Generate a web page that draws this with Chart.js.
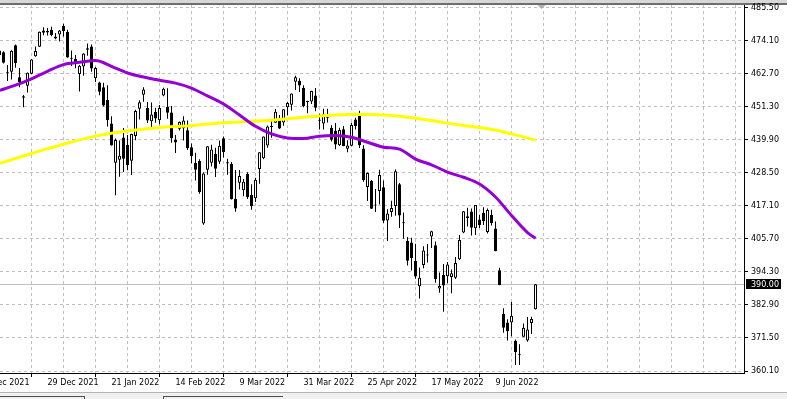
<!DOCTYPE html>
<html>
<head>
<meta charset="utf-8">
<script src="https://cdn.jsdelivr.net/npm/chart.js@4.4.0/dist/chart.umd.min.js"></script>
<style>
  html, body { margin: 0; padding: 0; background: #fff; }
  #wrap { width: 787px; height: 399px; }
</style>
</head>
<body>
<div id="wrap"><canvas id="priceChart" width="787" height="399"></canvas></div>
<script>
// daily bars, 10 Dec 2021 .. 24 Jun 2022
const dates = ['2021-12-10','2021-12-13','2021-12-14','2021-12-15','2021-12-16','2021-12-17','2021-12-20','2021-12-21','2021-12-22','2021-12-23','2021-12-27','2021-12-28','2021-12-29','2021-12-30','2021-12-31',
  '2022-01-03','2022-01-04','2022-01-05','2022-01-06','2022-01-07','2022-01-10','2022-01-11','2022-01-12','2022-01-13','2022-01-14','2022-01-18','2022-01-19','2022-01-20','2022-01-21','2022-01-24','2022-01-25','2022-01-26','2022-01-27','2022-01-28','2022-01-31',
  '2022-02-01','2022-02-02','2022-02-03','2022-02-04','2022-02-07','2022-02-08','2022-02-09','2022-02-10','2022-02-11','2022-02-14','2022-02-15','2022-02-16','2022-02-17','2022-02-18','2022-02-22','2022-02-23','2022-02-24','2022-02-25','2022-02-28',
  '2022-03-01','2022-03-02','2022-03-03','2022-03-04','2022-03-07','2022-03-08','2022-03-09','2022-03-10','2022-03-11','2022-03-14','2022-03-15','2022-03-16','2022-03-17','2022-03-18','2022-03-21','2022-03-22','2022-03-23','2022-03-24','2022-03-25','2022-03-28','2022-03-29','2022-03-30','2022-03-31',
  '2022-04-01','2022-04-04','2022-04-05','2022-04-06','2022-04-07','2022-04-08','2022-04-11','2022-04-12','2022-04-13','2022-04-14','2022-04-18','2022-04-19','2022-04-20','2022-04-21','2022-04-22','2022-04-25','2022-04-26','2022-04-27','2022-04-28','2022-04-29',
  '2022-05-02','2022-05-03','2022-05-04','2022-05-05','2022-05-06','2022-05-09','2022-05-10','2022-05-11','2022-05-12','2022-05-13','2022-05-16','2022-05-17','2022-05-18','2022-05-19','2022-05-20','2022-05-23','2022-05-24','2022-05-25','2022-05-26','2022-05-27','2022-05-31',
  '2022-06-01','2022-06-02','2022-06-03','2022-06-06','2022-06-07','2022-06-08','2022-06-09','2022-06-10','2022-06-13','2022-06-14','2022-06-15','2022-06-16','2022-06-17','2022-06-21','2022-06-22','2022-06-23','2022-06-24'];

const open = [469.23,470.19,463.09,463.42,472.57,461.55,454.48,458.61,462.79,468.75,472.06,477.72,476.98,477.93,475.64,
  476.30,479.22,477.16,467.89,467.95,462.70,465.23,471.59,472.19,461.19,459.74,458.13,453.75,445.56,432.03,433.06,440.72,438.26,432.68,441.24,
  450.68,455.50,450.95,446.35,449.51,446.73,455.22,451.34,449.41,439.92,443.73,443.93,443.22,437.33,431.89,432.66,411.02,429.61,432.03,
  435.04,432.37,440.47,431.75,431.55,419.62,425.14,422.52,428.12,420.89,419.77,429.89,433.59,438.00,444.34,445.86,446.91,445.94,451.16,452.06,460.02,460.34,457.89,
  453.31,453.13,455.22,446.89,445.59,447.97,444.11,443.08,438.03,443.55,436.81,437.86,446.92,448.54,436.91,423.67,425.83,417.24,422.29,423.59,
  412.07,415.01,417.08,424.55,411.10,405.10,404.49,398.07,389.37,396.71,399.98,406.53,403.50,388.62,393.25,392.83,392.56,392.31,398.67,407.91,413.55,
  415.17,409.42,412.40,414.78,408.10,413.93,409.34,394.88,379.85,376.85,376.86,370.51,365.51,371.89,370.62,376.64,381.40];

const high = [470.90,470.56,465.74,470.86,472.87,464.74,455.40,463.21,467.81,472.19,477.31,478.81,478.56,479.00,476.86,
  477.85,479.98,477.98,470.82,469.20,465.74,469.85,473.20,472.88,465.09,459.96,459.61,458.74,448.06,440.38,439.72,444.04,441.59,442.00,450.28,
  453.63,458.12,452.97,452.78,450.99,451.92,457.88,457.71,451.61,441.60,446.28,448.06,446.57,438.66,435.50,433.26,428.76,437.84,438.20,
  437.17,439.72,441.11,433.37,432.30,429.51,429.51,426.43,428.77,424.55,426.84,435.68,441.07,444.86,446.46,450.58,448.49,450.50,452.98,455.91,462.07,461.20,458.76,
  453.46,456.91,457.83,448.93,450.69,450.63,445.00,445.75,444.11,444.73,439.75,445.80,447.57,450.01,438.08,428.69,426.04,422.92,429.64,425.87,
  415.92,418.93,429.66,425.00,414.80,406.41,406.08,404.04,395.80,403.18,403.97,408.57,404.80,394.14,397.03,397.73,395.15,399.45,407.04,415.38,416.46,
  416.24,417.44,414.04,416.61,416.22,415.82,411.74,395.78,381.81,377.94,383.90,370.94,369.38,376.53,378.72,378.83,390.09];

const low = [466.51,466.27,460.25,460.74,464.80,458.06,451.14,456.31,462.58,468.64,472.01,476.06,475.92,475.67,474.67,
  473.85,475.58,468.28,465.43,464.65,456.60,462.05,468.94,463.44,459.90,455.31,451.46,444.50,437.95,420.76,427.15,428.86,429.45,427.82,439.81,
  446.94,453.05,445.71,443.83,445.85,445.22,455.01,447.20,438.94,435.34,443.18,439.69,436.42,431.82,425.86,421.35,410.64,427.86,430.70,
  427.11,431.57,433.80,427.88,419.36,415.12,422.82,420.44,419.53,415.79,418.42,424.80,433.19,437.22,440.68,445.86,443.71,444.76,448.43,450.06,457.18,456.47,451.16,
  449.14,452.26,449.82,443.47,443.53,445.94,439.39,436.65,437.84,437.68,435.61,437.68,443.48,437.10,425.44,418.84,416.07,415.01,417.60,411.21,
  405.02,413.36,413.71,409.44,405.73,396.50,394.82,391.96,385.15,395.61,397.60,402.58,390.55,387.11,380.54,390.38,386.96,391.89,398.45,407.70,410.03,
  406.93,407.04,409.51,410.55,407.61,410.38,401.44,389.75,373.30,370.59,372.12,362.17,362.17,371.81,370.18,372.89,381.37];

const close = [470.74,466.57,463.36,470.60,466.45,459.87,454.98,463.06,467.69,470.60,477.26,476.87,477.48,476.16,474.96,
  477.71,477.55,468.38,467.94,466.09,465.51,469.75,471.02,464.53,464.72,456.49,451.75,446.75,437.98,439.84,434.47,433.38,431.24,441.95,449.91,
  452.95,457.35,446.60,448.70,447.26,450.94,457.54,449.32,440.46,439.02,446.10,446.60,437.06,434.23,429.57,421.95,428.30,437.75,436.63,
  429.98,437.89,435.71,432.17,419.43,416.25,427.41,425.48,420.07,417.00,426.17,435.62,441.07,444.52,444.39,449.59,443.80,450.49,452.69,455.91,461.55,458.70,451.64,
  452.92,456.80,451.03,446.52,448.77,447.57,439.92,438.29,443.31,437.79,437.97,445.04,444.71,438.06,426.04,428.51,416.10,417.27,427.81,412.00,
  414.48,416.38,429.06,413.81,411.34,398.17,399.09,392.75,392.34,401.72,400.09,408.32,391.86,389.46,389.63,396.92,393.89,397.37,405.31,415.26,412.93,
  409.59,417.39,410.54,411.79,415.74,411.22,401.44,389.80,375.00,373.87,379.20,366.65,365.86,375.07,374.39,378.06,390.08];

// moving averages, read every 4th bar (bar index into dates)
const maBar = [0,4,8,12,16,20,24,28,32,36,40,44,48,52,56,60,64,68,72,76,80,84,88,92,96,100,104,108,112,116,120,124,128,132,134];
const maFast = [457.0,458.8,461.0,463.6,465.9,466.7,467.3,465.3,463.0,461.6,460.5,459.5,457.8,455.1,452.3,448.5,444.6,442.0,440.6,440.4,
  441.2,441.4,440.8,439.1,437.4,436.7,433.3,431.3,428.8,427.0,424.7,420.2,413.8,407.9,405.9];
const maSlow = [431.8,433.5,435.2,436.9,438.4,439.9,441.2,442.2,443.0,443.6,444.2,444.5,444.8,445.4,445.8,446.1,446.4,446.7,447.2,447.7,
  448.2,448.5,448.7,448.7,448.5,448.1,447.4,446.6,445.7,444.9,444.2,443.3,442.0,440.6,439.8];

// axis labels
const priceTicks = [360.10,371.50,382.90,394.30,405.70,417.10,428.50,439.90,451.30,462.70,474.10,485.50];
const dateTicks = ['6 Dec 2021','29 Dec 2021','21 Jan 2022','14 Feb 2022','9 Mar 2022','31 Mar 2022','25 Apr 2022','17 May 2022','9 Jun 2022'];
const bidPrice = 390.00;

const bodies = dates.map((d, i) => ({x: i, y: [open[i], close[i]]}));
const wicks = dates.map((d, i) => ({x: i, y: [low[i], high[i]]}));
const bodyFill = dates.map((d, i) => close[i] >= open[i] ? '#ffffff' : '#000000');

function dateLabel(v) {
    const k = (v + 4) / 16;
    return Number.isInteger(k) && k < dateTicks.length ? dateTicks[k] : '';
}

const mt4Frame = {
    id: 'mt4Frame',
    beforeDraw(chart) {
        const ctx = chart.ctx;
        const w = chart.width, h = chart.height;
        ctx.save();
        ctx.fillStyle = '#ffffff';
        ctx.fillRect(0, 0, w, h);
        ctx.fillStyle = '#d8d8d8';
        ctx.fillRect(0, 0, w, 3);
        ctx.fillStyle = '#6e6e6e';
        ctx.fillRect(0, 3, w, 2);
        // tab bar at the bottom
        ctx.fillStyle = '#f0f0f0';
        ctx.fillRect(0, 393, w, h - 393);
        ctx.fillStyle = '#b4b4b4';
        ctx.fillRect(0, 392, w, 1);
        ctx.fillStyle = '#505050';
        ctx.fillRect(0, 396, 84, 1);
        ctx.fillRect(84, 396, 1, 3);
        ctx.fillRect(163, 396, 1, 3);
        ctx.fillRect(163, 396, 120, 1);
        ctx.restore();
    },
    beforeDatasetsDraw(chart) {
        const ctx = chart.ctx, a = chart.chartArea;
        const y = Math.round(chart.scales.y.getPixelForValue(bidPrice)) + 0.5;
        ctx.save();
        ctx.strokeStyle = '#c0c0c0';
        ctx.lineWidth = 1;
        ctx.beginPath();
        ctx.moveTo(a.left, y);
        ctx.lineTo(a.right, y);
        ctx.stroke();
        ctx.restore();
    },
    afterDraw(chart) {
        const ctx = chart.ctx, a = chart.chartArea;
        const y = Math.round(chart.scales.y.getPixelForValue(bidPrice));
        ctx.save();
        ctx.fillStyle = '#000000';
        ctx.fillRect(a.right + 2, y - 5, 35, 10);
        ctx.fillStyle = '#ffffff';
        ctx.font = '8px "DejaVu Sans"';
        ctx.textBaseline = 'middle';
        ctx.fillText(bidPrice.toFixed(2), a.right + 7, y + 0.5);
        // chart shift marker
        const sx = chart.scales.x.getPixelForValue(dates.length + 0.5);
        ctx.fillStyle = '#b0b0b0';
        ctx.beginPath();
        ctx.moveTo(sx - 4, a.top);
        ctx.lineTo(sx + 4, a.top);
        ctx.lineTo(sx, a.top + 4);
        ctx.closePath();
        ctx.fill();
        ctx.restore();
    }
};

new Chart('priceChart', {
    type: 'bar',
    data: {
        datasets: [
            {
                type: 'line',
                data: maBar.map((b, k) => ({x: b, y: maFast[k]})),
                borderColor: '#9400d3',
                borderWidth: 3,
                pointRadius: 0,
                cubicInterpolationMode: 'monotone',
                order: 1
            },
            {
                type: 'line',
                data: maBar.map((b, k) => ({x: b, y: maSlow[k]})),
                borderColor: '#ffff00',
                borderWidth: 3,
                pointRadius: 0,
                cubicInterpolationMode: 'monotone',
                order: 2
            },
            {
                data: bodies,
                backgroundColor: bodyFill,
                borderColor: '#000000',
                borderWidth: 1,
                borderSkipped: false,
                barThickness: 3,
                minBarLength: 1,
                grouped: false,
                inflateAmount: 0,
                order: 3
            },
            {
                data: wicks,
                backgroundColor: '#000000',
                borderWidth: 0,
                barThickness: 1,
                grouped: false,
                inflateAmount: 0,
                order: 4
            }
        ]
    },
    options: {
        responsive: false,
        animation: false,
        events: [],
        layout: { padding: { top: 5, left: 0, right: 0, bottom: 0 } },
        plugins: { legend: { display: false }, tooltip: { enabled: false } },
        scales: {
            x: {
                type: 'linear',
                min: 0.125,
                max: 186.125,
                offset: false,
                afterBuildTicks: (s) => {
                    const t = [];
                    for (let v = -4; v <= 184; v += 8) t.push({ value: v });
                    s.ticks = t;
                },
                afterFit: (s) => {
                    s.height = 26;
                    s.paddingLeft = 0; s.paddingRight = 0;
                    s.paddingTop = 0; s.paddingBottom = 0;
                },
                grid: {
                    color: '#c0c0c0',
                    lineWidth: 1,
                    tickLength: 4,
                    tickColor: (c) => (c.tick && dateLabel(c.tick.value)) ? '#000000' : 'rgba(0,0,0,0)'
                },
                border: { display: true, color: '#000000', width: 1, dash: [3, 3] },
                ticks: {
                    autoSkip: false,
                    maxRotation: 0,
                    align: 'start',
                    padding: 1,
                    color: '#000000',
                    font: { family: 'DejaVu Sans', size: 8 },
                    callback: (v) => dateLabel(v)
                }
            },
            y: {
                position: 'right',
                min: 359.41,
                max: 486.49,
                afterBuildTicks: (s) => { s.ticks = priceTicks.map(v => ({ value: v })); },
                afterFit: (s) => {
                    s.width = 43;
                    s.paddingTop = 0; s.paddingBottom = 0;
                    s.paddingLeft = 0; s.paddingRight = 0;
                },
                grid: {
                    color: '#c0c0c0',
                    lineWidth: 1,
                    tickLength: 4,
                    tickColor: '#000000'
                },
                border: { display: true, color: '#000000', width: 1, dash: [3, 3] },
                ticks: {
                    autoSkip: false,
                    padding: 3,
                    color: '#000000',
                    font: { family: 'DejaVu Sans', size: 8 },
                    callback: (v) => Number(v).toFixed(2)
                }
            }
        }
    },
    plugins: [mt4Frame]
});
</script>
</body>
</html>
